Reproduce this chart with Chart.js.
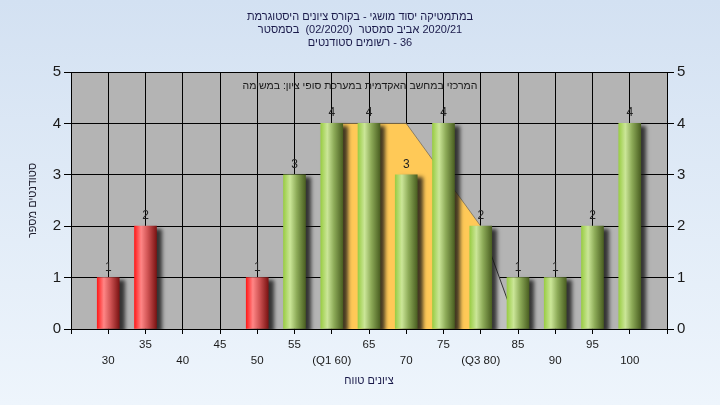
<!DOCTYPE html>
<html dir="ltr"><head><meta charset="utf-8">
<script src="https://cdn.jsdelivr.net/npm/chart.js@4.4.1/dist/chart.umd.min.js"></script>
<style>html,body{margin:0;padding:0;background:#e2ecf8;}canvas{display:block;direction:ltr;}</style>
</head><body>
<canvas id="c" width="720" height="405"></canvas>
<script>
// ---- data ----
const categories = [30,35,40,45,50,55,60,65,70,75,80,85,90,95,100];
const counts     = [1, 2, 0, 0, 1, 3, 4, 4, 3, 4, 2, 1, 1, 2, 4];
const tickLabels = ['30','35','40','45','50','55','(Q1 60)','65','70','75','(Q3 80)','85','90','95','100'];
const passMark = 55;
const iqrX = [60, 70, 80];
const iqrY = [4, 4, 2];
const tailX = [80, 85];
const tailY = [2, 0];
const yMin = 0, yMax = 5, yStep = 1;
const xMin = 25, xMax = 105, xStep = 5;
const titleLines = ['היסטוגרמת ציונים בקורס - מושגי יסוד במתמטיקה', 'בסמסטר  (02/2020)  סמסטר אביב 2020/21', 'סטודנטים רשומים - 36'];
const noteText = 'במשימה :ציון סופי במערכת האקדמית במחשב המרכזי';
const yTitle = 'מספר סטודנטים';
const xTitle = 'טווח ציונים';

const FONT = "'Liberation Sans', Arial, sans-serif";

// lay the words out left to right, as in the reference picture
function drawWords(ctx, text, cx, cy) {
  const words = text.split(' ');
  const sp = ctx.measureText(' ').width;
  const pieces = []; let total = 0;
  words.forEach((w, wi) => {
    if (wi > 0) total += sp;
    (w.match(/[\u0590-\u05FF]+|[^\u0590-\u05FF]+/g) || []).forEach(p => {
      pieces.push([p, total]); total += ctx.measureText(p).width;
    });
  });
  ctx.textAlign = 'left';
  pieces.forEach(([p, off]) => ctx.fillText(p, cx - total / 2 + off, cy));
}

const barPts = [], barVals = [];
categories.forEach((c, i) => { if (counts[i] > 0) { barPts.push({x: c, y: counts[i]}); barVals.push(counts[i]); } });

function barGradient(ctx) {
  const chart = ctx.chart, xs = chart.scales.x;
  const fail = ctx.raw && ctx.raw.x < passMark;
  const flat = fail ? '#e04040' : '#9c6';
  if (ctx.type !== 'data' || !xs) return flat;
  const cx = xs.getPixelForValue(ctx.raw.x);
  if (!isFinite(cx)) return flat;
  const g = chart.ctx.createLinearGradient(cx - 11, 0, cx + 11, 0);
  if (fail) {
    g.addColorStop(0, '#ff1c1c'); g.addColorStop(0.3, '#ff8686');
    g.addColorStop(0.6, '#d05454'); g.addColorStop(1, '#7c1414');
  } else {
    g.addColorStop(0, '#9acd45'); g.addColorStop(0.3, '#cbe698');
    g.addColorStop(0.6, '#8dab58'); g.addColorStop(1, '#4b6022');
  }
  return g;
}

const bgPlugin = {
  id: 'bg',
  beforeDraw(chart) {
    const {ctx, width, height, chartArea: a} = chart;
    const g = ctx.createLinearGradient(0, 0, 0, height);
    g.addColorStop(0, '#d3e1f2'); g.addColorStop(1, '#eef5fc');
    ctx.save(); ctx.fillStyle = g; ctx.fillRect(0, 0, width, height);
    ctx.fillStyle = '#b4b4b4'; ctx.fillRect(a.left, a.top, a.right - a.left, a.bottom - a.top);
    ctx.restore();
  }
};
const shadowPlugin = {
  id: 'shadow',
  beforeDatasetDraw(chart, args) {
    if (args.meta.type !== 'bar') return;
    const ctx = chart.ctx; ctx.save();
    ctx.shadowColor = 'rgba(20,20,20,0.8)'; ctx.shadowBlur = 4; ctx.shadowOffsetX = 5; ctx.shadowOffsetY = 3;
  },
  afterDatasetDraw(chart, args) { if (args.meta.type === 'bar') chart.ctx.restore(); }
};
const textPlugin = {
  id: 'texts',
  afterDatasetsDraw(chart) {
    const ctx = chart.ctx, a = chart.chartArea;
    const meta = chart.getDatasetMeta(0);
    ctx.save();
    ctx.direction = 'ltr';
    ctx.font = '12px ' + FONT; ctx.textAlign = 'center'; ctx.textBaseline = 'alphabetic'; ctx.fillStyle = '#222';
    meta.data.forEach((el, i) => ctx.fillText(String(barVals[i]), el.x, el.y - 7));
    ctx.font = '10.5px ' + FONT; ctx.textBaseline = 'middle'; ctx.fillStyle = '#1a1a1a';
    drawWords(ctx, noteText, (a.left + a.right) / 2 - 9, a.top + 14);
    ctx.restore();
  },
  afterDraw(chart) {
    const ctx = chart.ctx, a = chart.chartArea;
    ctx.save();
    ctx.direction = 'ltr';
    ctx.font = '11px ' + FONT; ctx.textBaseline = 'middle'; ctx.fillStyle = '#1a1a4a';
    titleLines.forEach((t, i) => drawWords(ctx, t, chart.width / 2, 17 + i * 13));
    drawWords(ctx, xTitle, (a.left + a.right) / 2, 381);
    ctx.fillStyle = '#202030';
    ctx.translate(33, (a.top + a.bottom) / 2);
    ctx.rotate(-Math.PI / 2);
    drawWords(ctx, yTitle, 0, 0);
    ctx.restore();
  }
};

new Chart(document.getElementById('c'), {
  type: 'bar',
  data: {
    datasets: [
      { type: 'bar', data: barPts, order: 0, barThickness: 22, backgroundColor: barGradient, borderWidth: 0 },
      { type: 'line', data: iqrX.map((x, i) => ({x, y: iqrY[i]})), order: 2, fill: 'origin',
        backgroundColor: '#ffc957', borderColor: 'rgba(110,100,80,0.7)', borderWidth: 1, pointRadius: 0, tension: 0 },
      { type: 'line', data: tailX.map((x, i) => ({x, y: tailY[i]})), order: 1, fill: 'origin',
        backgroundColor: '#c0c0c0', borderColor: '#333', borderWidth: 1, pointRadius: 0, tension: 0 }
    ]
  },
  options: {
    responsive: false, animation: false, devicePixelRatio: 1,
    layout: { padding: { top: 72, left: 0, right: 0, bottom: 0 } },
    plugins: { legend: { display: false }, tooltip: { enabled: false }, title: { display: false } },
    scales: {
      x: {
        type: 'linear', min: xMin, max: xMax, offset: false,
        grid: { color: '#000', lineWidth: 1, tickLength: 5, offset: false, tickColor: '#000' },
        border: { color: '#000', width: 1 },
        ticks: {
          stepSize: xStep, autoSkip: false, maxRotation: 0, minRotation: 0, padding: 3, color: '#1a1a1a',
          font: { size: 11.5, family: FONT, lineHeight: 1.4 },
          callback: v => {
            const i = categories.indexOf(v);
            if (i < 0) return '';
            return (v % 10 === 5) ? [tickLabels[i]] : ['', tickLabels[i]];
          }
        },
        afterFit: s => { s.height = 76; }
      },
      y: {
        position: 'left', min: yMin, max: yMax,
        grid: { color: '#000', lineWidth: 1, tickLength: 7, tickColor: '#000' },
        border: { color: '#000', width: 1 },
        ticks: { stepSize: yStep, padding: 3, color: '#1a1a1a', font: { size: 15, family: FONT } },
        afterFit: s => { s.width = 71; }
      },
      y2: {
        position: 'right', min: yMin, max: yMax,
        grid: { drawOnChartArea: false, color: '#000', tickLength: 7, tickColor: '#000' },
        border: { color: '#000', width: 1 },
        ticks: { stepSize: yStep, padding: 3, color: '#1a1a1a', font: { size: 15, family: FONT } },
        afterFit: s => { s.width = 53; }
      }
    }
  },
  plugins: [bgPlugin, shadowPlugin, textPlugin]
});
</script>
</body></html>
